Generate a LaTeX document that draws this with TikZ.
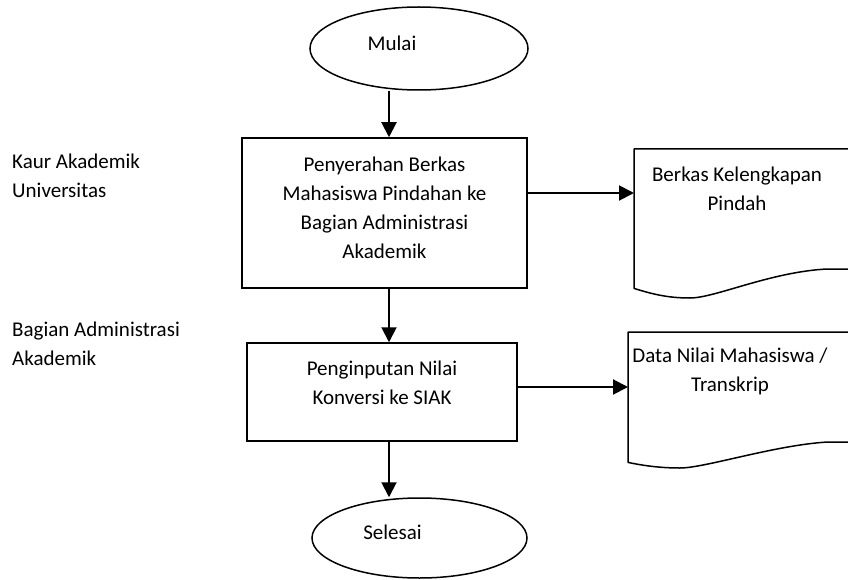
\documentclass[tikz,border=0pt]{standalone}
\usepackage{fontspec}
\setmainfont{Carlito}
\usetikzlibrary{arrows.meta,shapes.geometric}
\begin{document}
\begin{tikzpicture}[x=1pt,y=-1pt,
  txt/.style={font=\fontsize{21}{29}\selectfont, inner sep=0pt, align=center},
  sidetxt/.style={font=\fontsize{21}{29}\selectfont, inner sep=0pt, align=left, anchor=west},
  terminal/.style={draw, ellipse, line width=1.5pt, inner sep=0pt},
  procbox/.style={draw, rectangle, line width=1.5pt, inner sep=0pt},
  docframe/.style={rectangle, inner sep=0pt, anchor=north west},
  docline/.style={line width=1.5pt, line join=round},
  arr/.style={line width=2pt, -{Triangle[width=15pt,length=15pt]}}]
\useasboundingbox (0,0) rectangle (848,580);
\clip (0,0) rectangle (848,580);

% lane labels
\node[sidetxt] (lane1) at (12,176) {Kaur Akademik\\Universitas};
\node[sidetxt] (lane2) at (12,344) {Bagian Administrasi\\Akademik};

% terminals
\node[terminal, minimum width=218pt, minimum height=83pt,
      label={[txt, xshift=-27pt, yshift=5pt]center:Mulai}] (mulai) at (419,48.5) {};
\node[terminal, minimum width=215pt, minimum height=80pt,
      label={[txt, xshift=-27pt, yshift=6pt]center:Selesai}] (selesai) at (419.5,538) {};

% process steps
\node[procbox, minimum width=285pt, minimum height=150pt,
      label={[txt, yshift=5pt]center:Penyerahan Berkas\\Mahasiswa Pindahan ke\\Bagian Administrasi\\Akademik}] (box1) at (384.5,213) {};
\node[procbox, minimum width=270pt, minimum height=98pt,
      label={[txt, yshift=9.5pt]center:Penginputan Nilai\\Konversi ke SIAK}] (box2) at (382,392) {};

% documents
\node[docframe, minimum width=246pt, minimum height=139pt] (doc1) at (634,149) {};
\draw[docline] (880,149) -- (doc1.north west) -- (doc1.south west)
  .. controls (655,295) and (670,298) .. (690,298)
  .. controls (715,298) and (770,272) .. (827,269) -- (880,269);
\node[txt] (doc1text) at (737,189) {Berkas Kelengkapan\\Pindah};

\node[docframe, minimum width=252pt, minimum height=130pt] (doc2) at (628,332) {};
\draw[docline] (880,332) -- (doc2.north west) -- (doc2.south west)
  .. controls (645,466) and (662,468) .. (680,468)
  .. controls (705,468) and (775,445) .. (828,442) -- (880,442);
\node[txt] (doc2text) at (730,371) {Data Nilai Mahasiswa /\\Transkrip};

% connectors
\coordinate (spine) at (389,0);
\coordinate (row1) at (0,193);
\coordinate (row2) at (0,387);
\draw[arr] (mulai.south -| spine) -- (box1.north -| spine);
\draw[arr] (box1.south -| spine) -- (box2.north -| spine);
\draw[arr] (box2.south -| spine) -- (selesai.north -| spine);
\draw[arr] (box1.east |- row1) -- (doc1.west |- row1);
\draw[arr] (box2.east |- row2) -- (doc2.west |- row2);
\end{tikzpicture}
\end{document}
